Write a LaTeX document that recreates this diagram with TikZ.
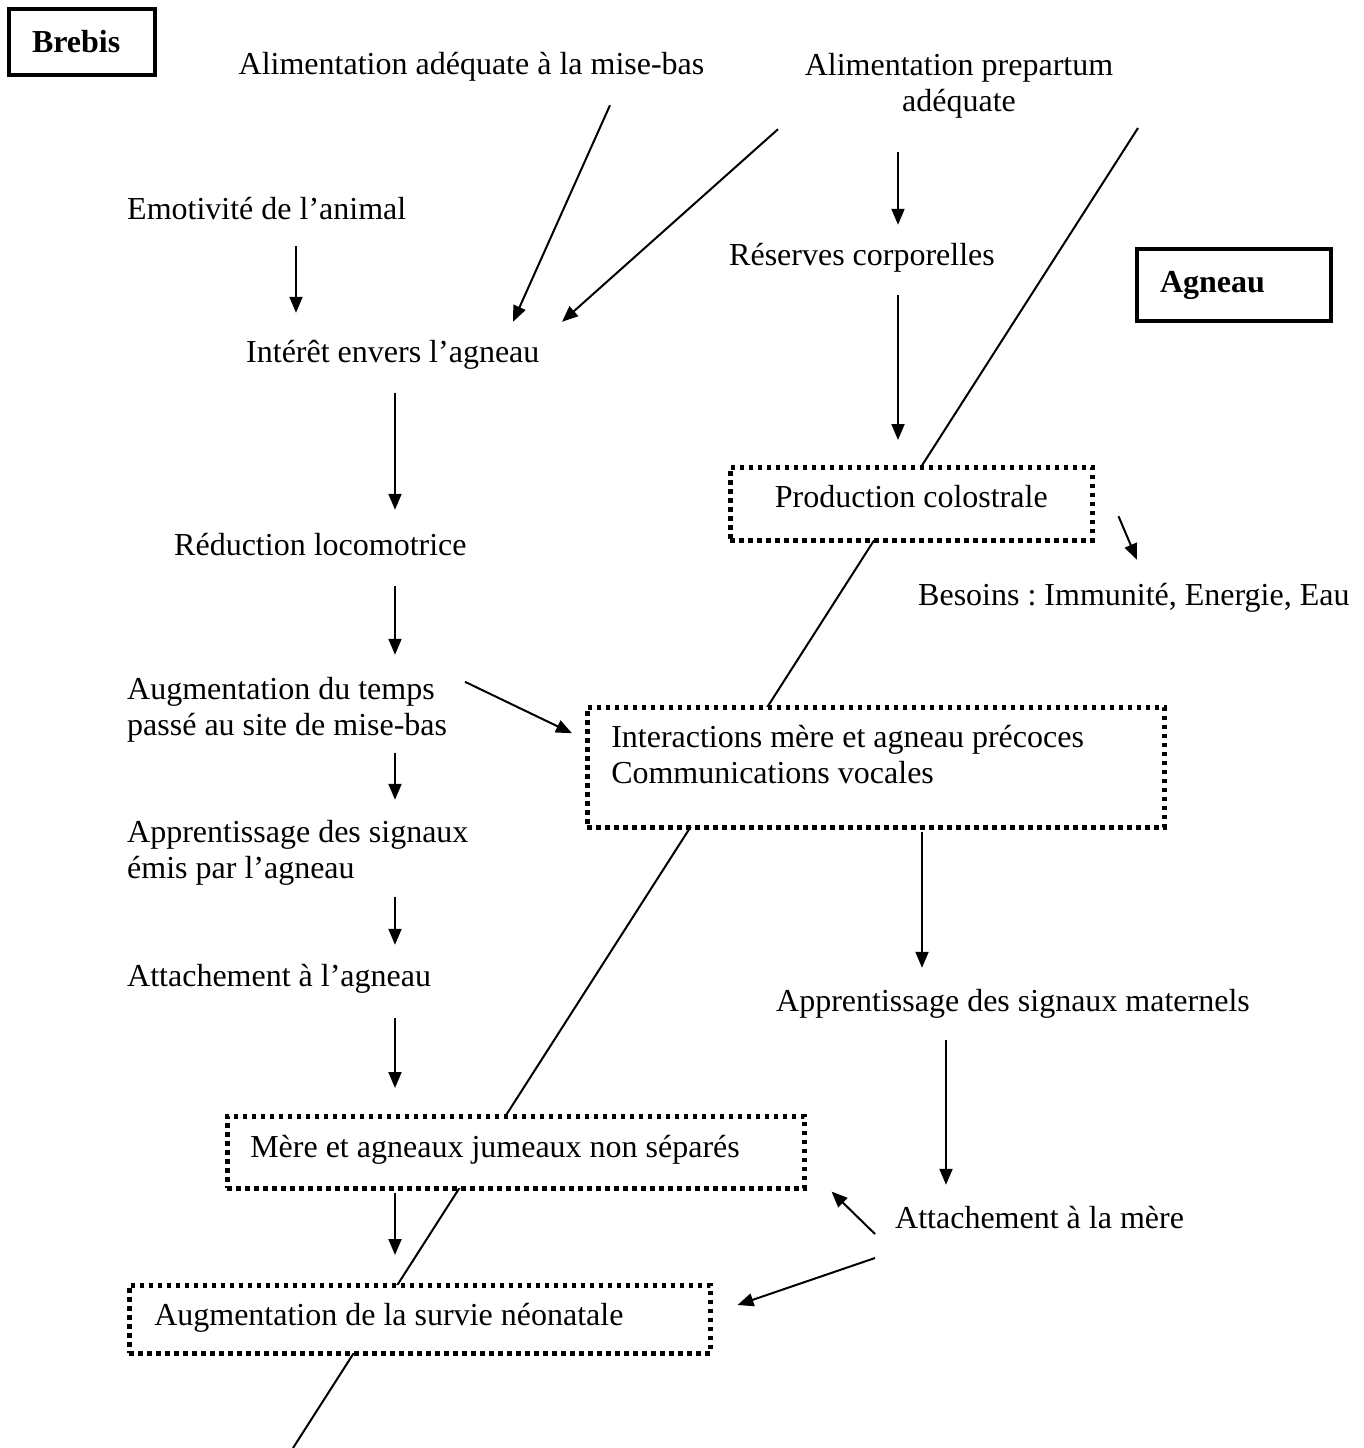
\documentclass[tikz,border=0pt]{standalone}
\usepackage{fontspec}
\setmainfont{Liberation Serif}
\usetikzlibrary{arrows.meta,calc}

\tikzset{
  lbl/.style={font=\fontsize{32}{36}\selectfont\frenchspacing},
  txt/.style={lbl, inner sep=0pt, text height=22pt, text depth=7pt},
  twoline/.style={txt, text depth=43pt, align=flush left},
  arr/.style={line width=2pt, -{Triangle[length=16pt,width=13pt]}},
  titlebox/.style={lbl, draw, line width=4.5pt, font=\fontsize{32}{36}\selectfont\bfseries,
                   inner xsep=23pt, inner ysep=0pt, align=flush left},
  dotbox/.style={lbl, draw, line width=4.5pt, dash pattern=on 4.5pt off 4.5pt, fill=white,
                 inner xsep=24pt, inner ysep=0pt, align=flush left, anchor=north west}
}

\begin{document}
\begin{tikzpicture}[x=1pt, y=-1pt]

                \path[use as bounding box, fill=white] (0,0) rectangle (1364,1448);

                \coordinate (sepTop) at (1138,128);
                \coordinate (sepBot) at (293,1448);
                \coordinate (colA) at (296,0);
                \coordinate (colB) at (395,0);
                \coordinate (colC) at (898,0);
                \coordinate (colD) at (922,0);
                \coordinate (colE) at (946,0);

                % brebis / agneau separation
                \draw[line width=2pt] (sepTop) -- (sepBot);

                \node[titlebox, text width=100pt, minimum height=66pt] (brebis) at (82,42) {Brebis};
                \node[titlebox, text width=148pt, minimum height=72pt] (agneau) at (1234,285) {Agneau};

                \node[txt, anchor=base] (alimMB) at (471.5,74) {Alimentation adéquate à la mise-bas};
                \node[twoline, align=flush center, text width=400pt, anchor=base] (alimPP) at (959,75) {Alimentation prepartum\\adéquate};
                \node[txt, anchor=base west] (emot) at (127,219) {Emotivité de l’animal};
                \node[txt, anchor=base west] (reserves) at (729,265) {Réserves corporelles};
                \node[txt, anchor=base west] (int) at (246,362) {Intérêt envers l’agneau};
                \node[txt, anchor=base west] (reduc) at (174,555) {Réduction locomotrice};
                \node[txt, anchor=base west] (besoins) at (918,605) {Besoins : Immunité, Energie, Eau};
                \node[twoline, text width=400pt, anchor=base west] (augm) at (127,699) {Augmentation du temps\\passé au site de mise-bas};
                \node[twoline, text width=400pt, anchor=base west] (appr) at (127,842) {Apprentissage des signaux\\émis par l’agneau};
                \node[txt, anchor=base west] (attA) at (127,986) {Attachement à l’agneau};
                \node[txt, anchor=base west] (apprM) at (776,1011) {Apprentissage des signaux maternels};
                \node[txt, anchor=base west] (attM) at (895,1228) {Attachement à la mère};

                \node[dotbox, align=flush center, text width=314pt, text height=40pt, text depth=33pt] (prod) at (728,465) {Production colostrale};
                \node[dotbox, text width=529pt, text height=40pt, text depth=80pt] (inter) at (585,705) {Interactions mère et agneau précoces\\Communications vocales};
                \node[dotbox, inner xsep=23pt, text width=531pt, text height=41pt, text depth=31pt] (mere) at (225,1114) {Mère et agneaux jumeaux non séparés};
                \node[dotbox, inner xsep=25pt, text width=531pt, text height=40pt, text depth=28pt] (survie) at (127,1283) {Augmentation de la survie néonatale};

                \draw[arr] ($(alimMB.south)+(138.5,24)$) -- ($(int.north west)+(267,-18)$);
                \draw[arr] ($(alimPP.south)+(-181,11)$) -- ($(int.north west)+(316,-18)$);
                \draw[arr, shorten <=34pt, shorten >=18pt] (alimPP.south -| colC) -- (reserves.north -| colC);
                \draw[arr, shorten <=20pt, shorten >=27pt] (emot.south -| colA) -- (int.north -| colA);
                \draw[arr, shorten <=23pt, shorten >=25pt] (reserves.south -| colC) -- (prod.north -| colC);
                \draw[arr, shorten <=24pt, shorten >=23pt] (int.south -| colB) -- (reduc.north -| colB);
                \draw[arr] ($(prod.east)+(24,12.5)$) -- ($(besoins.north west)+(219,-23)$);
                \draw[arr, shorten <=24pt, shorten >=22pt] (reduc.south -| colB) -- (augm.north -| colB);
                \draw[arr] ($(augm.north west)+(338,5)$) -- ($(inter.west)+(-13,-34)$);
                \draw[arr, shorten <=11pt, shorten >=20pt] (augm.south -| colB) -- (appr.north -| colB);
                \draw[arr, shorten <=12pt, shorten >=19pt] (appr.south -| colB) -- (attA.north -| colB);
                \draw[arr, shorten <=2pt, shorten >=21pt] (inter.south -| colD) -- (apprM.north -| colD);
                \draw[arr, shorten <=25pt, shorten >=26pt] (attA.south -| colB) -- (mere.north -| colB);
                \draw[arr, shorten <=22pt, shorten >=21pt] (apprM.south -| colE) -- (attM.north -| colE);
                \draw[arr] ($(attM.west)+(-20,13.5)$) -- ($(mere.south east)+(25,1)$);
                \draw[arr] ($(attM.west)+(-20,37.5)$) -- ($(survie.north east)+(25,22)$);
                \draw[arr, shorten <=2pt, shorten >=28pt] (mere.south -| colB) -- (survie.north -| colB);

\end{tikzpicture}
\end{document}
